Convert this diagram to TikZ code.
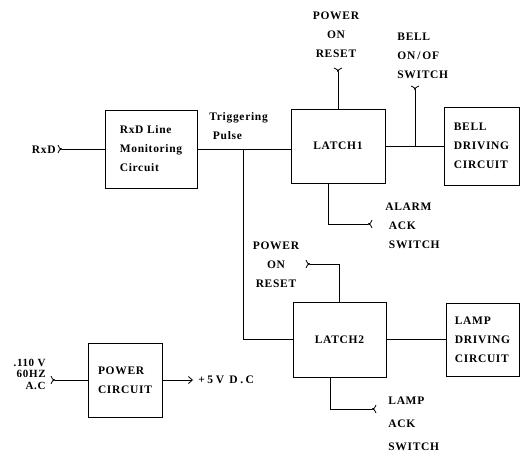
\documentclass[tikz,border=0pt]{standalone}
\usepackage{fontspec}
\usetikzlibrary{arrows.meta}
\setmainfont{Liberation Serif}[LetterSpace=6]
\begin{document}
\begin{tikzpicture}[x=1pt,y=-1pt,line width=0.8pt,
  box/.style={draw,align=left,inner sep=0pt},
  lbl/.style={inner sep=0pt,align=left},
  fork/.pic={\draw[line width=0.8pt] (0,0) .. controls (2,0) and (3,-1) .. (4,-4);
             \draw[line width=0.8pt] (0,0) .. controls (2,0) and (3,1) .. (4,4);},
  font=\fontsize{11.5}{19}\selectfont\bfseries]
\useasboundingbox (0,0) rectangle (520,453);
% boxes
\node[box,minimum width=92,minimum height=78] (rxd) at (151,149) {RxD Line\\Monitoring\\Circuit};
\node[box,minimum width=94,minimum height=74] (latch1) at (338,146) {LATCH1};
\node[box,minimum width=75,minimum height=78] (bell) at (481.5,146) {BELL\\DRIVING\\CIRCUIT};
\node[box,minimum width=93,minimum height=75] (latch2) at (339.5,339.5) {LATCH2};
\node[box,minimum width=73,minimum height=73] (lamp) at (482.5,339.5) {LAMP\\DRIVING\\CIRCUIT};
\node[box,minimum width=74,minimum height=74] (power) at (125,380) {POWER\\CIRCUIT};
% labels
\node[lbl,anchor=east] (rxdl) at (56,150) {RxD};
\node[lbl,anchor=west] (trig) at (209,126) {Triggering\\\ Pulse};
\node[lbl,align=center] (por1) at (336,35) {POWER\\ON\\RESET};
\node[lbl,anchor=west] (bsw) at (397,56) {BELL\\ON\,/\,OF\\SWITCH};
\node[lbl,anchor=west] (alarm) at (385,226) {ALARM\\\ ACK\\\ SWITCH};
\node[lbl,align=center] (por2) at (276,265) {POWER\\ON\\RESET};
\node[lbl,anchor=west] (lack) at (388,424) {LAMP\\[4pt]ACK\\[4pt]SWITCH};
\node[lbl,anchor=east,align=right,font=\fontsize{11}{11.5}\selectfont\bfseries] (ac) at (46,374) {.110 V\\60HZ\ \\A.C\ };
\node[lbl,anchor=west,font=\fontsize{11.5}{19}\selectfont\bfseries\addfontfeature{LetterSpace=22}] (dc) at (198,380) {+5V D.C};
% fork end points
\coordinate (fRxd) at (62,149);
\coordinate (fPor1) at (338,72);
\coordinate (fBell) at (415,90);
\coordinate (fAlarm) at (368,224);
\coordinate (fPor2) at (310,264);
\coordinate (fLamp) at (372,409);
\coordinate (fAc) at (55,380);
\coordinate (jT) at (243,149);
\coordinate (jB) at (415,146);
\coordinate (out) at (193,380);
% connectors
\draw (fRxd) -- (rxd.west);
\pic[rotate=180] at (fRxd) {fork};
\draw (rxd.east) -- (rxd.east -| latch1.west);
\draw (jT) |- (latch2.west);
\draw (fPor1) -- (fPor1 |- latch1.north);
\pic[rotate=90] at (fPor1) {fork};
\draw (latch1.east) -- (bell.west);
\draw (fBell) -- (jB);
\pic[rotate=90] at (fBell) {fork};
\draw ([xshift=-10pt]latch1.south) |- (fAlarm);
\pic at (fAlarm) {fork};
\draw (fPor2) -| (latch2.north);
\pic[rotate=180] at (fPor2) {fork};
\draw (latch2.east) -- (lamp.west);
\draw ([xshift=-9pt]latch2.south) |- (fLamp);
\pic at (fLamp) {fork};
\draw (fAc) -- (power.west);
\pic[rotate=180] at (fAc) {fork};
\draw[-{Straight Barb[length=4pt,width=7pt]}] (power.east) -- (out);
\end{tikzpicture}
\end{document}
